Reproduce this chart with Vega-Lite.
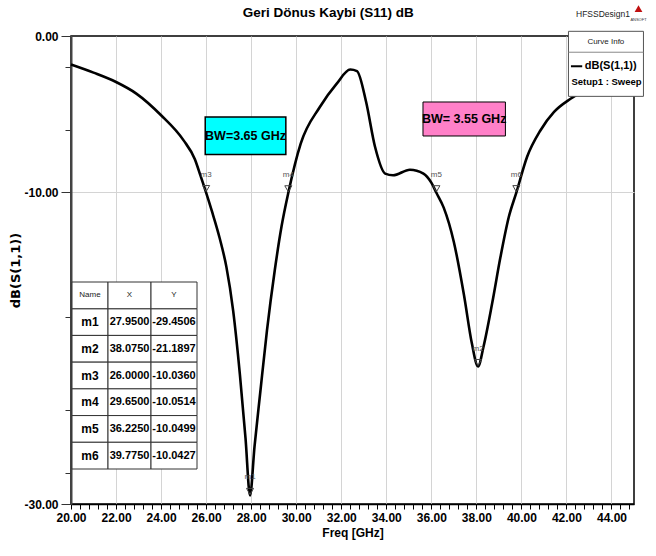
{
  "$schema": "https://vega.github.io/schema/vega-lite/v6.json",
  "width": 563,
  "height": 468,
  "autosize": {"type": "none"},
  "padding": {"left": 71, "top": 36, "right": 22, "bottom": 52},
  "background": "white",
  "config": {
    "view": {"stroke": "#000", "strokeWidth": 1.5},
    "locale": {"number": {"decimal": ".", "thousands": ",", "grouping": [3], "currency": ["$", ""], "minus": "-"}},
    "text": {"font": "Liberation Sans, Arial, sans-serif"}
  },
  "datasets": {
    "curve": [
      {"f": 20.0, "db": -1.83}, {"f": 21.0, "db": -2.35}, {"f": 22.0, "db": -2.95}, {"f": 22.9, "db": -3.69},
      {"f": 24.0, "db": -5.08}, {"f": 25.0, "db": -6.69}, {"f": 25.5, "db": -7.9}, {"f": 25.75, "db": -8.95},
      {"f": 26.0, "db": -10.04}, {"f": 26.25, "db": -11.2}, {"f": 26.6, "db": -12.95}, {"f": 26.9, "db": -14.8},
      {"f": 27.2, "db": -17.6}, {"f": 27.5, "db": -21.7}, {"f": 27.75, "db": -25.8}, {"f": 27.95, "db": -29.45},
      {"f": 28.15, "db": -26.3}, {"f": 28.4, "db": -22.9}, {"f": 28.7, "db": -18.9}, {"f": 29.05, "db": -15.0},
      {"f": 29.35, "db": -12.2}, {"f": 29.65, "db": -10.05}, {"f": 30.2, "db": -6.9}, {"f": 31.05, "db": -4.55},
      {"f": 31.8, "db": -3.05}, {"f": 32.4, "db": -2.15}, {"f": 32.7, "db": -2.25}, {"f": 33.1, "db": -4.2},
      {"f": 33.5, "db": -7.1}, {"f": 33.95, "db": -8.82}, {"f": 34.3, "db": -8.93}, {"f": 35.05, "db": -8.57},
      {"f": 35.65, "db": -8.82}, {"f": 36.0, "db": -9.4}, {"f": 36.225, "db": -10.05}, {"f": 36.55, "db": -11.0},
      {"f": 37.0, "db": -13.2}, {"f": 37.45, "db": -16.6}, {"f": 37.8, "db": -19.7}, {"f": 38.075, "db": -21.19},
      {"f": 38.32, "db": -19.9}, {"f": 38.7, "db": -17.15}, {"f": 39.07, "db": -14.17}, {"f": 39.44, "db": -11.6},
      {"f": 39.775, "db": -10.04}, {"f": 40.25, "db": -7.76}, {"f": 40.85, "db": -6.04}, {"f": 41.45, "db": -4.87},
      {"f": 42.2, "db": -4.01}, {"f": 43.0, "db": -3.3}, {"f": 44.0, "db": -2.5}, {"f": 45.0, "db": -1.9}
    ],
    "markers": [
      {"name": "m1", "f": 27.95, "db": -29.4506},
      {"name": "m2", "f": 38.075, "db": -21.1897},
      {"name": "m3", "f": 26.0, "db": -10.036},
      {"name": "m4", "f": 29.65, "db": -10.0514},
      {"name": "m5", "f": 36.225, "db": -10.0499},
      {"name": "m6", "f": 39.775, "db": -10.0427}
    ]
  },
  "layer": [
    {
      "layer": [
        {
          "data": {"name": "curve"},
          "mark": {"type": "line", "color": "#000", "strokeWidth": 2.6, "interpolate": "monotone"},
          "encoding": {
            "x": {
              "field": "f", "type": "quantitative",
              "scale": {"domain": [20, 45], "nice": false, "zero": false},
              "axis": {
                "title": "Freq [GHz]",
                "values": [20,20.4,20.8,21.2,21.6,22,22.4,22.8,23.2,23.6,24,24.4,24.8,25.2,25.6,26,26.4,26.8,27.2,27.6,28,28.4,28.8,29.2,29.6,30,30.4,30.8,31.2,31.6,32,32.4,32.8,33.2,33.6,34,34.4,34.8,35.2,35.6,36,36.4,36.8,37.2,37.6,38,38.4,38.8,39.2,39.6,40,40.4,40.8,41.2,41.6,42,42.4,42.8,43.2,43.6,44,44.4,44.8],
                "tickCount": 200,
                "labelExpr": "abs(datum.value/2 - round(datum.value/2)) < 0.01 ? format(datum.value, '.2f') : ''",
                "labelOverlap": false,
                "labelFlush": false,
                "labelFont": "Liberation Sans, Arial, sans-serif",
                "labelFontSize": 12,
                "labelFontWeight": "bold",
                "labelColor": "#000",
                "labelPadding": 3,
                "tickColor": "#000",
                "tickSize": 5,
                "domainColor": "#000",
                "domainWidth": 1.5,
                "grid": true,
                "gridColor": "#d4d4d4",
                "gridWidth": 1,
                "gridOpacity": {"condition": {"test": "abs(datum.value/2 - round(datum.value/2)) < 0.01", "value": 1}, "value": 0},
                "titleFont": "Liberation Sans, Arial, sans-serif",
                "titleFontSize": 12,
                "titleFontWeight": "bold",
                "titleColor": "#000",
                "titlePadding": 4
              }
            },
            "y": {
              "field": "db", "type": "quantitative",
              "scale": {"domain": [-30, 0], "nice": false, "zero": false},
              "axis": {
                "title": "dB(S(1,1))",
                "values": [0, -2, -6, -10, -18, -24, -28, -30],
                "tickCount": 50,
                "labelExpr": "datum.value == 0 ? '0.00' : datum.value == -10 ? '-10.00' : datum.value == -30 ? '-30.00' : ''",
                "labelOverlap": false,
                "labelFlush": false,
                "labelFont": "Liberation Sans, Arial, sans-serif",
                "labelFontSize": 12,
                "labelFontWeight": "bold",
                "labelColor": "#000",
                "labelPadding": 3,
                "tickColor": "#333",
                "tickSize": {"condition": {"test": "datum.value == 0 || datum.value == -10 || datum.value == -30", "value": 10}, "value": 6},
                "domainColor": "#444",
                "domainWidth": 2,
                "grid": true,
                "gridColor": "#d4d4d4",
                "gridOpacity": {"condition": {"test": "datum.value == -10", "value": 1}, "value": 0},
                "titleFont": "DejaVu Sans, sans-serif",
                "titleFontSize": 13,
                "titleFontWeight": "bold",
                "titleColor": "#000",
                "titlePadding": 1
              }
            }
          }
        },
        {
          "data": {"name": "markers"},
          "mark": {"type": "point", "shape": "triangle-down", "filled": false, "stroke": "#444", "strokeWidth": 1, "size": 50, "yOffset": -4, "opacity": 1},
          "encoding": {
            "x": {"field": "f", "type": "quantitative"},
            "y": {"field": "db", "type": "quantitative"}
          }
        },
        {
          "data": {"name": "markers"},
          "mark": {"type": "text", "dy": -18, "fontSize": 8, "color": "#555"},
          "encoding": {
            "x": {"field": "f", "type": "quantitative"},
            "y": {"field": "db", "type": "quantitative"},
            "text": {"field": "name"}
          }
        },
        {
          "data": {"values": [{}]},
          "mark": {"type": "rect", "fill": "#00ffff", "stroke": "#000", "strokeWidth": 1.5},
          "encoding": {
            "x": {"datum": 25.96}, "x2": {"datum": 29.54},
            "y": {"datum": -5.19}, "y2": {"datum": -7.6}
          }
        },
        {
          "data": {"values": [{}]},
          "mark": {"type": "text", "text": "BW=3.65 GHz", "fontSize": 12.5, "fontWeight": "bold", "color": "#000"},
          "encoding": {"x": {"datum": 27.75}, "y": {"datum": -6.4}}
        },
        {
          "data": {"values": [{}]},
          "mark": {"type": "rect", "fill": "#ff80c8", "stroke": "#000", "strokeWidth": 1},
          "encoding": {
            "x": {"datum": 35.63}, "x2": {"datum": 39.29},
            "y": {"datum": -4.23}, "y2": {"datum": -6.41}
          }
        },
        {
          "data": {"values": [{}]},
          "mark": {"type": "text", "text": "BW= 3.55 GHz", "fontSize": 12.5, "fontWeight": "bold", "color": "#000"},
          "encoding": {"x": {"datum": 37.46}, "y": {"datum": -5.32}}
        },
        {
          "data": {"values": [{}]},
          "mark": {"type": "rect", "fill": "#fff", "stroke": "#555", "strokeWidth": 1},
          "encoding": {
            "x": {"datum": 42.09}, "x2": {"datum": 45.42},
            "y": {"datum": 0.3}, "y2": {"datum": -3.87}
          }
        },
        {
          "data": {"values": [{}]},
          "mark": {"type": "rule", "stroke": "#888", "strokeWidth": 1},
          "encoding": {"x": {"datum": 42.09}, "x2": {"datum": 45.42}, "y": {"datum": -1.04}}
        },
        {
          "data": {"values": [{}]},
          "mark": {"type": "rule", "stroke": "#000", "strokeWidth": 2},
          "encoding": {"x": {"datum": 42.2}, "x2": {"datum": 42.7}, "y": {"datum": -1.94}}
        },
        {
          "data": {"values": [{}]},
          "mark": {"type": "text", "text": "Curve Info", "fontSize": 8, "color": "#222"},
          "encoding": {"x": {"datum": 43.75}, "y": {"datum": -0.36}}
        },
        {
          "data": {"values": [{}]},
          "mark": {"type": "text", "text": "dB(S(1,1))", "fontSize": 11, "fontWeight": "bold", "align": "right", "color": "#000"},
          "encoding": {"x": {"datum": 45.12}, "y": {"datum": -1.94}}
        },
        {
          "data": {"values": [{}]},
          "mark": {"type": "text", "text": "Setup1 : Sweep", "fontSize": 9.5, "fontWeight": "bold", "color": "#000"},
          "encoding": {"x": {"datum": 43.78}, "y": {"datum": -2.97}}
        },
        {
          "data": {"values": [{}]},
          "mark": {"type": "text", "text": "Geri Dönus Kaybi (S11) dB", "fontSize": 13.5, "fontWeight": "bold", "color": "#000"},
          "encoding": {"x": {"datum": 31.42}, "y": {"datum": 1.45}}
        },
        {
          "data": {"values": [{}]},
          "mark": {"type": "text", "text": "HFSSDesign1", "fontSize": 8.5, "color": "#222"},
          "encoding": {"x": {"datum": 43.62}, "y": {"datum": 1.42}}
        },
        {
          "data": {"values": [{}]},
          "mark": {"type": "point", "shape": "triangle-up", "filled": true, "color": "#c01010", "size": 60, "opacity": 1},
          "encoding": {"x": {"datum": 45.2}, "y": {"datum": 1.75}}
        },
        {
          "data": {"values": [{}]},
          "mark": {"type": "text", "text": "ANSOFT", "fontSize": 4, "color": "#333"},
          "encoding": {"x": {"datum": 45.2}, "y": {"datum": 1.0}}
        }
      ]
    },
    {
      "data": {"name": "markers"},
      "encoding": {
        "y": {"field": "name", "type": "nominal", "scale": {"domain": ["hdr", "m1", "m2", "m3", "m4", "m5", "m6"], "range": [246, 433], "paddingInner": 0, "paddingOuter": 0}, "axis": null}
      },
      "layer": [
        {
          "mark": {"type": "rect", "fill": "#fff", "stroke": "#333", "strokeWidth": 1},
          "encoding": {
            "x": {"datum": 0, "type": "quantitative", "scale": {"domain": [0, 125], "range": [1, 126], "nice": false, "zero": false}, "axis": null},
            "x2": {"datum": 36}
          }
        },
        {
          "mark": {"type": "rect", "fill": "#fff", "stroke": "#333", "strokeWidth": 1},
          "encoding": {"x": {"datum": 36, "type": "quantitative", "axis": null}, "x2": {"datum": 79}}
        },
        {
          "mark": {"type": "rect", "fill": "#fff", "stroke": "#333", "strokeWidth": 1},
          "encoding": {"x": {"datum": 79, "type": "quantitative", "axis": null}, "x2": {"datum": 125}}
        },
        {
          "data": {"values": [{}]},
          "mark": {"type": "rect", "fill": "#fff", "stroke": "#333", "strokeWidth": 1},
          "encoding": {"x": {"datum": 0, "type": "quantitative", "axis": null}, "x2": {"datum": 36}, "y": {"datum": "hdr", "type": "nominal", "axis": null}}
        },
        {
          "data": {"values": [{}]},
          "mark": {"type": "rect", "fill": "#fff", "stroke": "#333", "strokeWidth": 1},
          "encoding": {"x": {"datum": 36, "type": "quantitative", "axis": null}, "x2": {"datum": 79}, "y": {"datum": "hdr", "type": "nominal", "axis": null}}
        },
        {
          "data": {"values": [{}]},
          "mark": {"type": "rect", "fill": "#fff", "stroke": "#333", "strokeWidth": 1},
          "encoding": {"x": {"datum": 79, "type": "quantitative", "axis": null}, "x2": {"datum": 125}, "y": {"datum": "hdr", "type": "nominal", "axis": null}}
        },
        {
          "data": {"values": [{}]},
          "mark": {"type": "text", "text": "Name", "fontSize": 8, "color": "#222"},
          "encoding": {"x": {"datum": 18, "type": "quantitative", "axis": null}, "y": {"datum": "hdr", "type": "nominal", "axis": null}}
        },
        {
          "data": {"values": [{}]},
          "mark": {"type": "text", "text": "X", "fontSize": 8, "color": "#222"},
          "encoding": {"x": {"datum": 57.5, "type": "quantitative", "axis": null}, "y": {"datum": "hdr", "type": "nominal", "axis": null}}
        },
        {
          "data": {"values": [{}]},
          "mark": {"type": "text", "text": "Y", "fontSize": 8, "color": "#222"},
          "encoding": {"x": {"datum": 102, "type": "quantitative", "axis": null}, "y": {"datum": "hdr", "type": "nominal", "axis": null}}
        },
        {
          "mark": {"type": "text", "fontSize": 12, "fontWeight": "bold", "color": "#000"},
          "encoding": {"x": {"datum": 18, "type": "quantitative", "axis": null}, "text": {"field": "name"}}
        },
        {
          "mark": {"type": "text", "fontSize": 11, "fontWeight": "bold", "color": "#000"},
          "encoding": {"x": {"datum": 57.5, "type": "quantitative", "axis": null}, "text": {"field": "f", "type": "quantitative", "format": ".4f"}}
        },
        {
          "mark": {"type": "text", "fontSize": 11, "fontWeight": "bold", "color": "#000"},
          "encoding": {"x": {"datum": 102, "type": "quantitative", "axis": null}, "text": {"field": "db", "type": "quantitative", "format": ".4f"}}
        }
      ]
    }
  ],
  "resolve": {"scale": {"x": "independent", "y": "independent"}}
}
